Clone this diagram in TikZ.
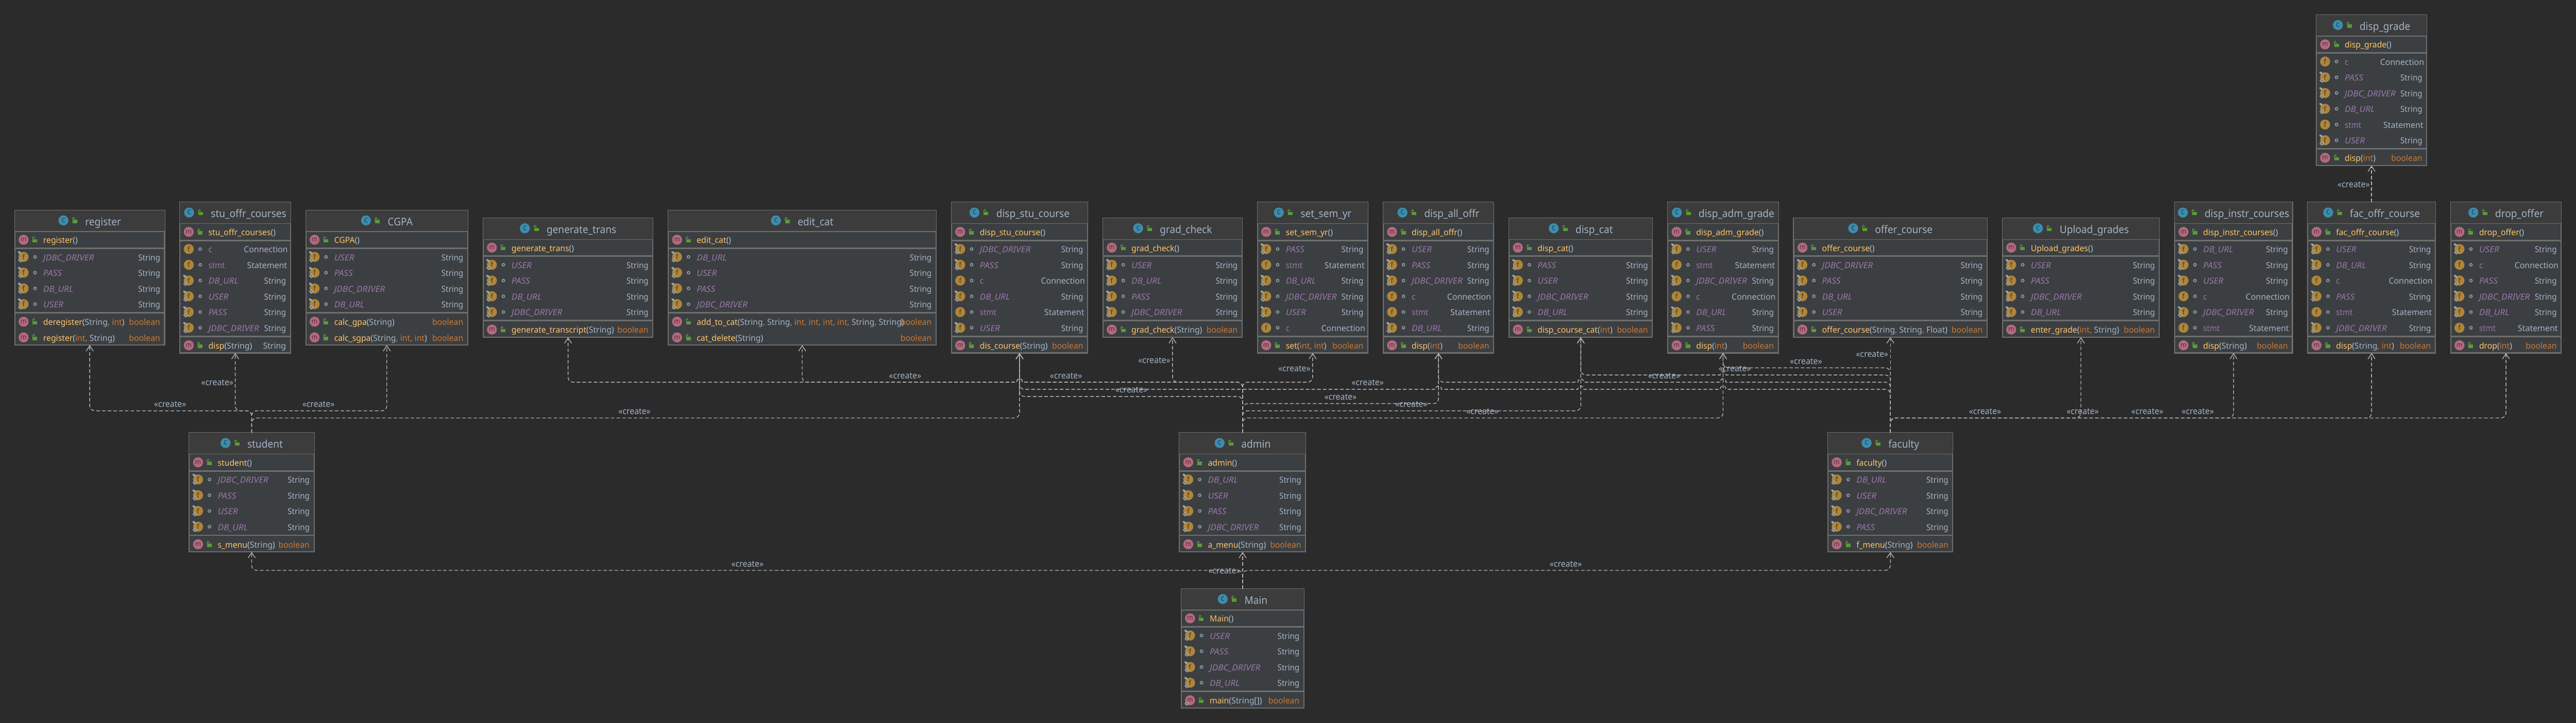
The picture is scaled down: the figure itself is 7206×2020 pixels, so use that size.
\documentclass[tikz,border=0pt]{standalone}
\usepackage{fontspec}
\setmainfont{Noto Sans}[FakeStretch=0.93]
\newfontfamily\fnM{Noto Sans}[FakeStretch=0.97]
\newfontfamily\fnT{Noto Sans}[FakeStretch=0.98]
\newfontfamily\fnI{Noto Sans}[FakeStretch=1.06]
\usetikzlibrary{arrows.meta}
\catcode`\_=12
\definecolor{cbg}{HTML}{2B2B2B}
\definecolor{ctitle}{HTML}{3C3C3C}
\definecolor{cbody}{HTML}{3C3F41}
\definecolor{cborder}{HTML}{6E6E6E}
\definecolor{ctype}{HTML}{A3B4C8}
\definecolor{cfield}{HTML}{9876AA}
\definecolor{cmeth}{HTML}{FFC66D}
\definecolor{corange}{HTML}{CC7832}
\definecolor{cparen}{HTML}{A9C4E0}
\definecolor{iconclass}{HTML}{3D8CAB}
\definecolor{iconclassd}{HTML}{1E4658}
\definecolor{iconm}{HTML}{B5697E}
\definecolor{iconmd}{HTML}{55303B}
\definecolor{iconf}{HTML}{AD863C}
\definecolor{iconfd}{HTML}{4A3719}
\definecolor{clock}{HTML}{5A9A3C}
\definecolor{cover}{HTML}{9AA7B0}
\definecolor{cdot}{HTML}{8F98A0}
\definecolor{cedge}{HTML}{B4B4B4}
\tikzset{
  umlbox/.style={draw=cborder,line width=3pt,fill=cbody,inner sep=0pt,outer sep=0pt},
  sep1/.style={cborder,line width=2pt},
  sep2/.style={cborder,line width=4pt},
  txt/.style={inner sep=0pt,outer sep=0pt,anchor=base west},
  txtr/.style={inner sep=0pt,outer sep=0pt,anchor=base east},
  ltr/.style={inner sep=0pt,outer sep=0pt,anchor=base},
  dep/.style={draw=cedge,line width=2pt,dash pattern=on 10pt off 6pt,rounded corners=14pt,
    -{Straight Barb[length=15pt,width=20pt,line width=2pt]}},
  lbl/.style={inner sep=0pt,outer sep=0pt,text=ctype,font=\fontsize{24.5}{28}\selectfont},
}
\newcommand\rowfont{\fontsize{23.4}{28}\selectfont}
\newcommand\titlefont{\fontsize{29.5}{34}\selectfont}
% icons
\newcommand\lockicon[2]{%
  \fill[clock] ({#1},{#2-1.7}) rectangle ({#1+13},{#2+7.6});
  \draw[clock,line width=2pt] ({#1},{#2-1}) -- ({#1},{#2-3.5})
     .. controls ({#1},{#2-9.5}) and ({#1+5.5},{#2-9.5}) .. ({#1+5.5},{#2-3.5});
}
\newcommand\circicon[7][19]{% [size] x y fill textcol letter name
  \fill[#4] ({#2},{#3}) circle[radius=14pt];
  \node[ltr,text=#5,font=\fontsize{#1}{22}\selectfont] (#7) at ({#2},{#3+5.5}) {#6};
}
\newcommand\coverpin[2]{%
  \fill[cover,rotate around={-35:({#1-11},{#2-12})}] ({#1-11},{#2-12}) ellipse[x radius=5.5pt,y radius=3pt];
}
\newcommand\coverdia[2]{%
  \fill[cover] ({#1-9},{#2+2.5}) -- ({#1-2.5},{#2+9}) -- ({#1-9},{#2+15.5}) -- ({#1-15.5},{#2+9}) -- cycle;
  \fill[iconf!70!cbody] ({#1-9},{#2+6}) -- ({#1-6},{#2+9}) -- ({#1-9},{#2+12}) -- ({#1-12},{#2+9}) -- cycle;
}
% field rows
\newcommand\frow[5]{% marks name type offset suffix
  \pgfmathsetmacro\ix{\xa+26}
  \pgfmathsetmacro\dx{\xa+58}
  \pgfmathsetmacro\tx{\xa+81}
  \pgfmathsetmacro\rx{\xb-#4}
  \pgfmathsetmacro\by{\ry+10}
  \fill[iconf] (\ix,\ry) circle[radius=14pt];
  \node[ltr,text=iconfd,font=\fontsize{20}{22}\selectfont] (\pfx-fi\k\i) at (\ix,\ry+7.5) {f};
  #1
  \draw[cdot,line width=2.5pt] (\dx,\ry) circle[radius=3.7pt];
  \node[txt,text=cfield,font=\rowfont#5] (\pfx-fn\k\i) at (\tx,\by) {#2};
  \node[txtr,text=ctype,font=\rowfont] (\pfx-ft\k\i) at (\rx,\by) {#3};
}
\newcommand\statmark{\coverpin{\ix}{\ry}\coverdia{\ix}{\ry}}
\newcommand\fldJ{\frow{\statmark}{JDBC_DRIVER}{String}{14}{\fnI\itshape}}
\newcommand\fldP{\frow{\statmark}{PASS}{String}{14}{\fnI\itshape}}
\newcommand\fldD{\frow{\statmark}{DB_URL}{String}{14}{\fnI\itshape}}
\newcommand\fldU{\frow{\statmark}{USER}{String}{14}{\fnI\itshape}}
\newcommand\fldc{\frow{}{c}{\fnT Connection}{9}{}}
\newcommand\fldt{\frow{}{stmt}{\fnT Statement}{11}{}}
% method signature pieces
\newcommand\mN[1]{{\color{cmeth}#1}}
\newcommand\LP{{\color{cparen}(}}
\newcommand\RP{{\color{cparen})}}
\newcommand\mS{{\color{ctype}String}}
\newcommand\mI{{\color{corange}int}}
\newcommand\mF{{\color{ctype}Float}}
\newcommand\CM{{\color{corange},} }
\newcommand\BR{{\color{cparen}[]}}
\newcommand\rB{{\color{corange}boolean}}
\newcommand\rS{{\color{ctype}String}}
\newcommand\mrow[3][]{%
  \pgfmathsetmacro\ix{\xa+26}
  \pgfmathsetmacro\lx{\xa+51.3}
  \pgfmathsetmacro\tx{\xa+81}
  \pgfmathsetmacro\rx{\xb-14}
  \pgfmathsetmacro\by{\ry+10}
  \pgfmathtruncatemacro\mi{\mi+1}
  \circicon{\ix}{\ry}{iconm}{iconmd}{m}{\pfx-mi\mi}
  #1
  \lockicon{\lx}{\ry}
  \node[txt,font=\rowfont\fnM] (\pfx-mn\mi) at (\tx,\by) {#2};
  \node[txtr,font=\rowfont\fnM] (\pfx-mt\mi) at (\rx,\by) {#3};
  \pgfmathsetmacro\ry{\ry+44}
}
% name x1 x2 top n m title fields methods
\newcommand\umlclass[9]{%
  \def\pfx{#1}\def\xa{#2}\def\xb{#3}\def\ytop{#4}%
  \pgfmathsetmacro\xm{(#2+#3)/2}
  \pgfmathsetmacro\hh{116+44*(#5+#6)}
  \pgfmathsetmacro\ym{#4+\hh/2}
  \pgfmathsetmacro\wi{#3-#2-3}
  \pgfmathsetmacro\hi{\hh-3}
  \node[umlbox,minimum width=\wi pt,minimum height=\hi pt] (#1) at (\xm,\ym) {};
  \fill[ctitle] ({#2+1.5},{#4+1.5}) rectangle ({#3-1.5},{#4+61});
  \draw[sep1] ({#2},{#4+61}) -- ({#3},{#4+61});
  \draw[sep2] ({#2},{#4+108}) -- ({#3},{#4+108});
  \draw[sep2] ({#2},{#4+112+44*#5}) -- ({#3},{#4+112+44*#5});
  % title: icon + lock + text centred as a group; text centre is 37.5 right of the box centre
  \node[ltr,text=ctype,font=\titlefont] (#1-title) at (\xm+37.5,#4+44) {#7};
  \path (#1-title.base west); \pgfgetlastxy{\tlx}{\tly}
  \pgfmathsetmacro\tl{\tlx-75}
  \circicon[23]{\tl+14}{#4+30}{iconclass}{iconclassd}{c}{#1-ci}
  \lockicon{\tl+39.7}{#4+30}
  % constructor
  \pgfmathsetmacro\ix{#2+26}
  \circicon{\ix}{#4+84}{iconm}{iconmd}{m}{#1-ctori}
  \lockicon{#2+51.3}{#4+84}
  \node[txt,font=\rowfont\fnM] (#1-ctor) at (#2+81,#4+94) {\mN{#7}\LP\RP};
  % fields
  \foreach \k [count=\i from 0] in {#8} {%
    \pgfmathsetmacro\ry{#4+132+44*\i}
    \csname fld\k\endcsname
  }
  % methods
  \pgfmathsetmacro\ry{#4+137+44*#5}
  \def\mi{0}
  #9
}
\begin{document}
\begin{tikzpicture}[x=1pt,y=-1pt]
\useasboundingbox (0,0) rectangle (7206,2020);
\fill[cbg] (0,0) rectangle (7206,2020);

\umlclass{reg}{40}{462}{586}{4}{2}{register}{J,P,D,U}{%
  \mrow{\mN{deregister}\LP\mS\CM\mI\RP}{\rB}\mrow{\mN{register}\LP\mI\CM\mS\RP}{\rB}}
\umlclass{sto}{502}{814}{564}{6}{1}{stu_offr_courses}{c,t,D,U,P,J}{%
  \mrow{\mN{disp}\LP\mS\RP}{\rS}}
\umlclass{cgpa}{854}{1310}{586}{4}{2}{CGPA}{U,P,J,D}{%
  \mrow{\mN{calc_gpa}\LP\mS\RP}{\rB}\mrow{\mN{calc_sgpa}\LP\mS\CM\mI\CM\mI\RP}{\rB}}
\umlclass{gent}{1350}{1828}{608}{4}{1}{generate_trans}{U,P,D,J}{%
  \mrow{\mN{generate_transcript}\LP\mS\RP}{\rB}}
\umlclass{edcat}{1868}{2620}{586}{4}{2}{edit_cat}{D,U,P,J}{%
  \mrow{\mN{add_to_cat}\LP\mS\CM\mS\CM\mI\CM\mI\CM\mI\CM\mI\CM\mS\CM\mS\RP}{\rB}%
  \mrow{\mN{cat_delete}\LP\mS\RP}{\rB}}
\umlclass{dsc}{2660}{3044}{564}{6}{1}{disp_stu_course}{J,P,c,D,t,U}{%
  \mrow{\mN{dis_course}\LP\mS\RP}{\rB}}
\umlclass{grad}{3084}{3476}{608}{4}{1}{grad_check}{U,D,P,J}{%
  \mrow{\mN{grad_check}\LP\mS\RP}{\rB}}
\umlclass{sem}{3516}{3828}{564}{6}{1}{set_sem_yr}{P,t,D,J,U,c}{%
  \mrow{\mN{set}\LP\mI\CM\mI\RP}{\rB}}
\umlclass{dao}{3868}{4180}{564}{6}{1}{disp_all_offr}{U,P,J,c,t,D}{%
  \mrow{\mN{disp}\LP\mI\RP}{\rB}}
\umlclass{dcat}{4220}{4624}{608}{4}{1}{disp_cat}{P,U,J,D}{%
  \mrow{\mN{disp_course_cat}\LP\mI\RP}{\rB}}
\umlclass{dag}{4664}{4976}{564}{6}{1}{disp_adm_grade}{U,t,J,c,D,P}{%
  \mrow{\mN{disp}\LP\mI\RP}{\rB}}
\umlclass{offer}{5016}{5560}{608}{4}{1}{offer_course}{J,P,D,U}{%
  \mrow{\mN{offer_course}\LP\mS\CM\mS\CM\mF\RP}{\rB}}
\umlclass{upl}{5600}{6042}{608}{4}{1}{Upload_grades}{U,P,J,D}{%
  \mrow{\mN{enter_grade}\LP\mI\CM\mS\RP}{\rB}}
\umlclass{dic}{6082}{6414}{564}{6}{1}{disp_instr_courses}{D,P,U,c,J,t}{%
  \mrow{\mN{disp}\LP\mS\RP}{\rB}}
\umlclass{foc}{6454}{6814}{564}{6}{1}{fac_offr_course}{U,D,c,P,t,J}{%
  \mrow{\mN{disp}\LP\mS\CM\mI\RP}{\rB}}
\umlclass{dof}{6854}{7166}{564}{6}{1}{drop_offer}{U,c,P,J,D,t}{%
  \mrow{\mN{drop}\LP\mI\RP}{\rB}}
\umlclass{dg}{6478}{6790}{40}{6}{1}{disp_grade}{c,P,J,D,t,U}{%
  \mrow{\mN{disp}\LP\mI\RP}{\rB}}
\umlclass{student}{528}{880}{1208}{4}{1}{student}{J,P,U,D}{%
  \mrow{\mN{s_menu}\LP\mS\RP}{\rB}}
\umlclass{admin}{3298}{3654}{1208}{4}{1}{admin}{D,U,P,J}{%
  \mrow{\mN{a_menu}\LP\mS\RP}{\rB}}
\umlclass{faculty}{5112}{5464}{1208}{4}{1}{faculty}{D,U,J,P}{%
  \mrow{\mN{f_menu}\LP\mS\RP}{\rB}}
\umlclass{main}{3303}{3649}{1644}{4}{1}{Main}{U,P,J,D}{%
  \mrow[\coverdia{\ix}{\ry}]{\mN{main}\LP\mS\BR\RP}{\rB}}

% hop over a vertical line, travelling leftwards
\def\hopL#1#2{-- ({#1+30},#2) [sharp corners] -- ({#1+8},#2) .. controls ({#1+8},{#2-13}) and ({#1-8},{#2-13}) .. ({#1-8},#2) -- ({#1-10},#2) [rounded corners=14pt] -- ({#1-30},#2)}

% student
\draw[dep] (student.north) |- (reg.south |- 0,1148) -- (reg.south);
\draw[dep] (student.north) |- (sto.south |- 0,1148) -- (sto.south);
\draw[dep] (student.north) |- (cgpa.south |- 0,1148) -- (cgpa.south);
\draw[dep] (student.north) |- (dsc.south |- 0,1168) -- (dsc.south);
% admin
\draw[dep] (admin.north) -- (admin.north |- 0,1068) \hopL{2852}{1068} -- (gent.south |- 0,1068) -- (gent.south);
\draw[dep] (admin.north) -- (admin.north |- 0,1068) \hopL{2852}{1068} -- (edcat.south |- 0,1068) -- (edcat.south);
\draw[dep] (admin.north) |- (grad.south |- 0,1068) -- (grad.south);
\draw[dep] (admin.north) |- (sem.south |- 0,1068) -- (sem.south);
\draw[dep] (admin.north) |- (dsc.south |- 0,1108) -- (dsc.south);
\draw[dep] (admin.north) |- (dao.south |- 0,1128) -- (dao.south);
\draw[dep] (admin.north) |- (dcat.south |- 0,1148) -- (dcat.south);
\draw[dep] (admin.north) |- (dag.south |- 0,1168) -- (dag.south);
% faculty
\draw[dep] (faculty.north) -- (faculty.north |- 0,1088) \hopL{4820}{1088} \hopL{4422}{1088} \hopL{4024}{1088} -- (dsc.south |- 0,1088) -- (dsc.south);
\draw[dep] (faculty.north) -- (faculty.north |- 0,1068) \hopL{4820}{1068} \hopL{4422}{1068} -- (dao.south |- 0,1068) -- (dao.south);
\draw[dep] (faculty.north) -- (faculty.north |- 0,1048) \hopL{4820}{1048} -- (dcat.south |- 0,1048) -- (dcat.south);
\draw[dep] (faculty.north) |- (dag.south |- 0,1028) -- (dag.south);
\draw[dep] (faculty.north) -- (offer.south);
\draw[dep] (faculty.north) |- (upl.south |- 0,1168) -- (upl.south);
\draw[dep] (faculty.north) |- (dic.south |- 0,1168) -- (dic.south);
\draw[dep] (faculty.north) |- (foc.south |- 0,1168) -- (foc.south);
\draw[dep] (faculty.north) |- (dof.south |- 0,1168) -- (dof.south);
% others
\draw[dep] (foc.north) -- (dg.south);
\draw[dep] (main.north) -- (admin.south);
\draw[dep] (main.north) |- (student.south |- 0,1594) -- (student.south);
\draw[dep] (main.north) |- (faculty.south |- 0,1594) -- (faculty.south);

% labels
\foreach \x/\y [count=\i] in {476/1130,608/1070,891/1130,1775/1150,2532/1050,2982/1050,3165/1090,
  3229/1008,3621/1030,3826/1070,3750/1110,3948/1130,4147/1150,4655/1050,4853/1030,5052/1010,
  5237/990,5553/1150,5826/1150,6007/1150,6148/1150,6584/516,2091/1576,4380/1576,3425/1595}
  \node[lbl] (lab\i) at (\x,\y) {«create»};
\end{tikzpicture}
\end{document}
